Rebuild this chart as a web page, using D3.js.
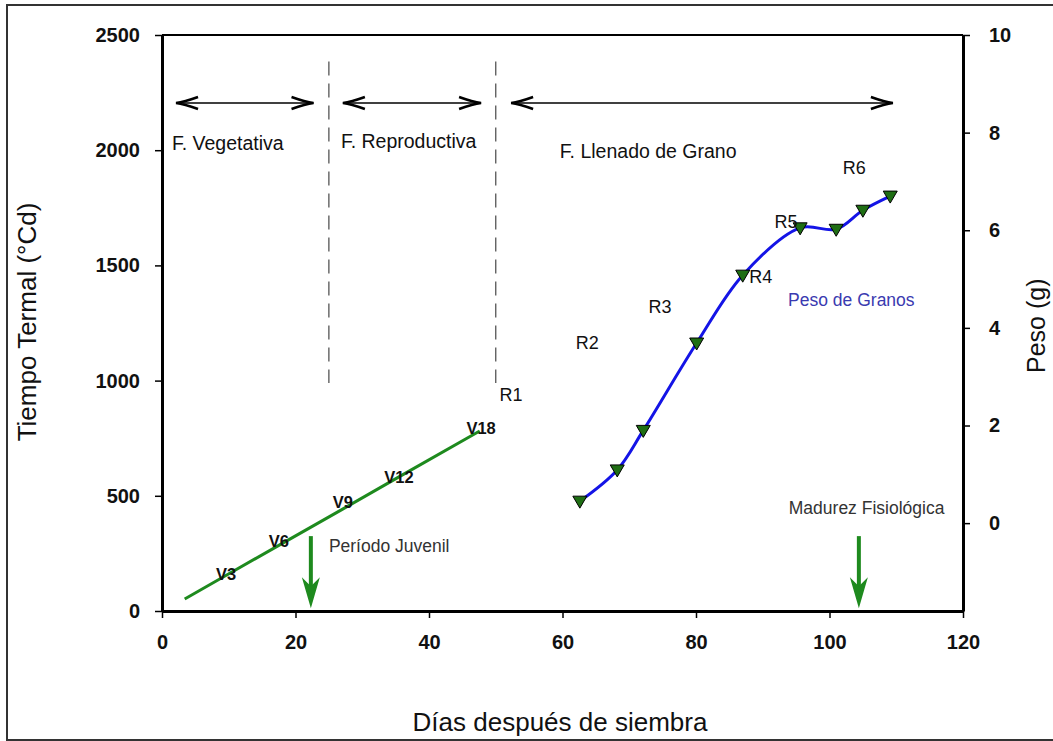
<html lang="es">
<head>
<meta charset="UTF-8">
<title>Tiempo termal y peso de granos</title>
<script src="https://cdn.jsdelivr.net/npm/d3@7"></script>
<style>
  body { margin: 0; background: #fff; }
  text { font-family: "Liberation Sans", Arial, sans-serif; }
  .tick text { font-weight: bold; font-size: 20px; fill: #111; }
</style>
</head>
<body>
<svg id="chart" width="1053" height="741"></svg>
<script>
// eje x: dias despues de siembra
var xTicks = [0, 20, 40, 60, 80, 100, 120];
var ttTicks = [0, 500, 1000, 1500, 2000, 2500];
var pesoTicks = [0, 2, 4, 6, 8, 10];

// linea verde: tiempo termal (estados vegetativos)
var vegDays = [3.4, 9.5, 17.5, 27, 35.5, 47.6];
var vegTT = [52, 153, 285, 441, 582, 781];
var vLabels = ["V3", "V6", "V9", "V12", "V18"];
var vLabelDays = [9.6, 17.5, 27.1, 35.5, 47.8];
var vLabelTT = [161, 304, 470, 582, 794];

// peso de granos (g)
var pesoDays = [62.6, 68.2, 72.1, 80.1, 87.0, 95.6, 101.0, 105.0, 109.1];
var pesoG = [0.45, 1.09, 1.9, 3.69, 5.08, 6.05, 6.02, 6.41, 6.70];

// estados reproductivos
var rLabels = ["R1", "R2", "R3", "R4", "R5", "R6"];
var rDays = [52.3, 63.7, 74.6, 89.7, 93.5, 103.7];
var rTT = [937, 1163, 1319, 1450, 1688, 1923];

// fases
var phaseNames = ["F. Vegetativa", "F. Reproductiva", "F. Llenado de Grano"];
var phaseStart = [2.1, 27.1, 52.3];
var phaseEnd = [22.7, 47.8, 109.5];
var phaseTextDay = [1.5, 26.8, 59.6];
var phaseTextTT = [2001, 2010, 1966];
var phaseArrowTT = 2205;
var dividerDays = [25, 50];
var dividerTT = [990, 2385];

// flechas verdes
var markNames = ["Período Juvenil", "Madurez Fisiológica"];
var markDays = [22.3, 104.4];
var markTextDay = [25.0, 93.9];
var markTextTT = [256, 421];
var arrowTop = 325, arrowTip = 12;

var svg = d3.select("#chart");

// marco exterior
svg.append("rect")
  .attr("x", 7).attr("y", 5).attr("width", 1100).attr("height", 735)
  .attr("fill", "none").attr("stroke", "#333").attr("stroke-width", 2);

var x = d3.scaleLinear().domain([0, 120]).range([162, 963]);
var yL = d3.scaleLinear().domain([0, 2500]).range([611, 35]);
var yR = d3.scaleLinear().domain([-1.8, 10]).range([611, 35]);

// ejes
var fmt = d3.format("d");
var gx = svg.append("g").attr("transform", "translate(0,611)")
  .call(d3.axisBottom(x).tickValues(xTicks).tickFormat(fmt).tickSize(7).tickPadding(17).tickSizeOuter(0));
var gl = svg.append("g").attr("transform", "translate(162,0)")
  .call(d3.axisLeft(yL).tickValues(ttTicks).tickFormat(fmt).tickSize(7).tickPadding(15).tickSizeOuter(0));
var gr = svg.append("g").attr("transform", "translate(963,0)")
  .call(d3.axisRight(yR).tickValues(pesoTicks).tickFormat(fmt).tickSize(7).tickPadding(19).tickSizeOuter(0));
[gx, gl, gr].forEach(function(g) {
  g.select(".domain").attr("stroke", "#000").attr("stroke-width", 3);
  g.selectAll(".tick line").attr("stroke", "#000").attr("stroke-width", 1.5);
});
svg.append("line")
  .attr("x1", x(0)).attr("x2", x(120)).attr("y1", yL(2500)).attr("y2", yL(2500))
  .attr("stroke", "#000").attr("stroke-width", 2);

// titulos de ejes
svg.append("text")
  .attr("transform", "translate(36,322) rotate(-90)")
  .attr("text-anchor", "middle").style("font-size", "26px").style("fill", "#111")
  .text("Tiempo Termal (°Cd)");
svg.append("text")
  .attr("transform", "translate(1045,373) rotate(-90)")
  .attr("text-anchor", "start").style("font-size", "25px").style("fill", "#111")
  .text("Peso (g)");
svg.append("text")
  .attr("x", 560).attr("y", 731)
  .attr("text-anchor", "middle").style("font-size", "26px").style("fill", "#111")
  .text("Días después de siembra");

// divisiones de fases
svg.selectAll(".divider").data(dividerDays).enter().append("line")
  .attr("class", "divider")
  .attr("x1", function(d) { return x(d); }).attr("x2", function(d) { return x(d); })
  .attr("y1", yL(dividerTT[1])).attr("y2", yL(dividerTT[0]))
  .attr("stroke", "#555").attr("stroke-width", 1.3).attr("stroke-dasharray", "14,8");

// flechas dobles de fases
function chevron(g, px, py, dir) {
  g.append("path")
    .attr("d", "M" + (px + dir * 22) + "," + (py - 6) + " Q" + (px + dir * 8) + "," + (py - 1) + " " + px + "," + py +
               " Q" + (px + dir * 8) + "," + (py + 1) + " " + (px + dir * 22) + "," + (py + 6))
    .attr("fill", "none").attr("stroke", "#000").attr("stroke-width", 2.5);
}
phaseNames.forEach(function(name, i) {
  var g = svg.append("g");
  var x1 = x(phaseStart[i]), x2 = x(phaseEnd[i]), py = yL(phaseArrowTT);
  g.append("line").attr("x1", x1).attr("x2", x2).attr("y1", py).attr("y2", py)
    .attr("stroke", "#000").attr("stroke-width", 1.5);
  chevron(g, x1, py, 1);
  chevron(g, x2, py, -1);
  svg.append("text")
    .attr("x", x(phaseTextDay[i])).attr("y", yL(phaseTextTT[i]))
    .style("font-size", "19.5px").style("fill", "#111")
    .text(name);
});

// linea verde de tiempo termal
var vegPts = vegDays.map(function(d, i) { return [d, vegTT[i]]; });
svg.append("path").datum(vegPts)
  .attr("d", d3.line().x(function(d) { return x(d[0]); }).y(function(d) { return yL(d[1]); }))
  .attr("fill", "none").attr("stroke", "#1e8a1e").attr("stroke-width", 3);

svg.selectAll(".vlab").data(vLabels).enter().append("text")
  .attr("class", "vlab")
  .attr("x", function(d, i) { return x(vLabelDays[i]); })
  .attr("y", function(d, i) { return yL(vLabelTT[i]); })
  .attr("dy", "0.35em").attr("text-anchor", "middle")
  .style("font-size", "16.5px").style("font-weight", "bold").style("fill", "#111")
  .text(function(d) { return d; });

// curva de peso de granos
var pesoPts = pesoDays.map(function(d, i) { return [d, pesoG[i]]; });
svg.append("path").datum(pesoPts)
  .attr("d", d3.line().curve(d3.curveCatmullRom.alpha(0.5))
    .x(function(d) { return x(d[0]); }).y(function(d) { return yR(d[1]); }))
  .attr("fill", "none").attr("stroke", "#1414e6").attr("stroke-width", 3);

svg.selectAll(".mk").data(pesoPts).enter().append("path")
  .attr("class", "mk")
  .attr("transform", function(d) { return "translate(" + x(d[0]) + "," + yR(d[1]) + ")"; })
  .attr("d", "M-7,-5 L7,-5 L0,7 Z")
  .attr("fill", "#1f6e14").attr("stroke", "#000").attr("stroke-width", 1);

svg.selectAll(".rlab").data(rLabels).enter().append("text")
  .attr("class", "rlab")
  .attr("x", function(d, i) { return x(rDays[i]); })
  .attr("y", function(d, i) { return yL(rTT[i]); })
  .attr("dy", "0.35em").attr("text-anchor", "middle")
  .style("font-size", "18px").style("fill", "#111")
  .text(function(d) { return d; });

svg.append("text")
  .attr("x", x(93.8)).attr("y", yL(1324))
  .style("font-size", "17.5px").style("fill", "#3a3ab0")
  .text("Peso de Granos");

// flechas verdes
markDays.forEach(function(d, i) {
  var px = x(d), top = yL(arrowTop), tip = yL(arrowTip);
  svg.append("line").attr("x1", px).attr("x2", px).attr("y1", top).attr("y2", tip - 20)
    .attr("stroke", "#1e8a1e").attr("stroke-width", 4);
  svg.append("path")
    .attr("d", "M" + px + "," + tip + " L" + (px - 9) + "," + (tip - 31) +
               " L" + px + "," + (tip - 22) + " L" + (px + 9) + "," + (tip - 31) + " Z")
    .attr("fill", "#1e8a1e");
  svg.append("text")
    .attr("x", x(markTextDay[i])).attr("y", yL(markTextTT[i]))
    .style("font-size", "17.5px").style("fill", "#333")
    .text(markNames[i]);
});
</script>
</body>
</html>
